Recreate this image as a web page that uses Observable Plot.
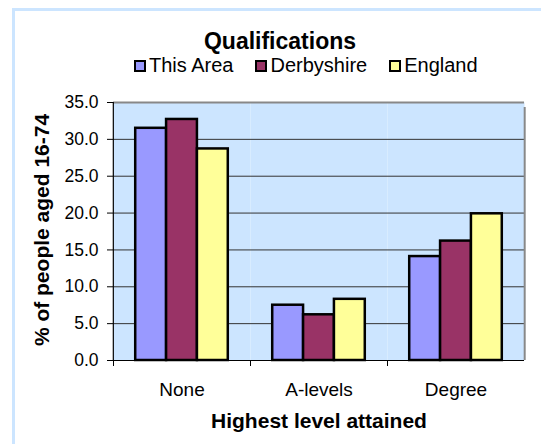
<!DOCTYPE html>
<html>
<head>
<meta charset="utf-8">
<script src="https://cdn.jsdelivr.net/npm/d3@7"></script>
<script src="https://cdn.jsdelivr.net/npm/@observablehq/plot@0.6"></script>
<style>
  html, body { margin: 0; padding: 0; background: #fff; overflow: hidden; }
  #wrap { position: relative; width: 541px; height: 444px; overflow: hidden; font-family: "Liberation Sans", Arial, sans-serif; color: #000; }
  #outer { position: absolute; left: 12px; top: 8px; width: 700px; height: 700px; border-left: 3px solid #cce5ff; border-top: 3px solid #cce5ff; box-sizing: border-box; }
  #title { position: absolute; left: 0; width: 560px; top: 30px; text-align: center; font-weight: bold; font-size: 23px; line-height: 23px; }
  #legend { position: absolute; left: 134px; top: 55px; display: flex; align-items: center; font-size: 20px; line-height: 20px; white-space: nowrap; }
  .item { display: flex; align-items: center; margin-right: 22px; }
  .sw { width: 8px; height: 8px; border: 2px solid #000; margin-right: 3px; margin-top: 2px; }
  #ytitle { position: absolute; left: 41px; top: 230px; transform: translate(-50%, -50%) rotate(-90deg); font-weight: bold; font-size: 21px; line-height: 21px; white-space: nowrap; }
  #xtitle { position: absolute; left: 0; width: 638px; top: 410px; text-align: center; font-weight: bold; font-size: 21px; line-height: 21px; }
  #chart { position: absolute; left: 0; top: 80px; }
</style>
</head>
<body>
<div id="wrap">
  <div id="outer"></div>
  <div id="title"></div>
  <div id="legend"></div>
  <div id="chart"></div>
  <div id="ytitle"></div>
  <div id="xtitle"></div>
</div>
<script>
const titleText = "Qualifications";
const xTitle = "Highest level attained";
const yTitle = "% of people aged 16-74";
const categories = ["None", "A-levels", "Degree"];
const series = ["This Area", "Derbyshire", "England"];
const thisArea = [31.5, 7.5, 14.1];
const derbyshire = [32.7, 6.2, 16.2];
const england = [28.7, 8.3, 19.9];
const seriesColors = ["#9999ff", "#993366", "#ffff99"];
const yTicks = [0, 5, 10, 15, 20, 25, 30, 35];
const yGrid = [5, 10, 15, 20, 25, 30];

const values = [thisArea, derbyshire, england];
const rows = [];
categories.forEach((c, i) => series.forEach((s, j) => rows.push({category: c, series: s, value: values[j][i]})));

document.getElementById("title").textContent = titleText;
document.getElementById("xtitle").textContent = xTitle;
document.getElementById("ytitle").textContent = yTitle;
const legend = document.getElementById("legend");
series.forEach((s, j) => {
  const it = document.createElement("div"); it.className = "item";
  const sw = document.createElement("div"); sw.className = "sw"; sw.style.background = seriesColors[j];
  const tx = document.createElement("span"); tx.textContent = s;
  it.appendChild(sw); it.appendChild(tx); legend.appendChild(it);
});

const W = 541, H = 364, ML = 112, MR = 16, MT = 22, MB = 84;
const PO = 0.72;
const fw = (W - ML - MR) / categories.length;
const step = fw / (series.length + 2 * PO);
const plotH = H - MT - MB;

const leftEdge = [{category: categories[0], series: series[0]}];
const rightEdge = [{category: categories[categories.length - 1], series: series[series.length - 1]}];

const chart = Plot.plot({
  width: W, height: H,
  marginLeft: ML, marginRight: MR, marginTop: MT, marginBottom: MB,
  style: {background: "transparent", fontFamily: "'Liberation Sans', Arial, sans-serif", color: "#000", overflow: "visible"},
  fx: {domain: categories, padding: 0, label: null},
  x: {domain: series, paddingInner: 0, paddingOuter: PO, axis: null, round: false},
  y: {domain: [0, 35], label: null},
  color: {domain: series, range: seriesColors},
  marks: [
    Plot.frame({fill: "#cce5ff", stroke: "none"}),
    Plot.ruleY(yGrid, {stroke: "#333", strokeWidth: 1}),
    Plot.ruleY([35], {stroke: "#888", strokeWidth: 2}),
    Plot.ruleX(rightEdge, {fx: "category", x: "series", dx: step / 2 + PO * step, y1: 0, y2: 35, stroke: "#888", strokeWidth: 2, insetBottom: -5}),
    Plot.barY(rows, {fx: "category", x: "series", y: "value", fill: "series", stroke: "#000", strokeWidth: 2.5}),
    Plot.ruleY([0], {stroke: "#000", strokeWidth: 1.2}),
    Plot.ruleX(leftEdge, {fx: "category", x: "series", dx: -(step / 2 + PO * step), y1: 0, y2: 35, stroke: "#000", strokeWidth: 1.2}),
    Plot.frame({anchor: "left", insetTop: plotH, insetBottom: -5, stroke: "#000", strokeWidth: 1}),
    Plot.axisY({ticks: yTicks, tickFormat: d => d.toFixed(1), tickSize: 6, tickPadding: 9, fontSize: 17.5, label: null, stroke: "#000"}),
    Plot.axisFx({anchor: "bottom", tickSize: 0, tickPadding: 22, fontSize: 19, label: null})
  ]
});
document.getElementById("chart").appendChild(chart);
</script>
</body>
</html>
